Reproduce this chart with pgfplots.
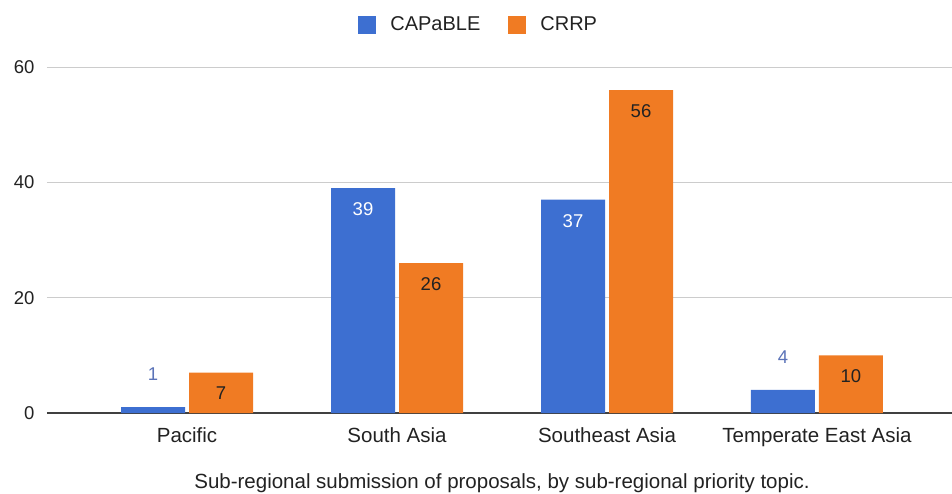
\documentclass[border=0pt]{standalone}
\usepackage{fontspec}
\setmainfont{Liberation Sans}
\usepackage{pgfplots}
\pgfplotsset{compat=1.18}
\definecolor{cblue}{HTML}{3D6FD1}
\definecolor{corange}{HTML}{F07B23}
\definecolor{lblue}{HTML}{5B73B8}
\definecolor{txt}{HTML}{222222}
\begin{document}
\fontsize{19}{23}\selectfont
\begin{tikzpicture}
\useasboundingbox (-47pt,-80pt) rectangle (905pt,413pt);
\begin{axis}[
  at={(0pt,0pt)}, anchor=south west,
  scale only axis, width=905pt, height=346pt,
  xmin=-0.667, xmax=3.643, ymin=0, ymax=60,
  xtick={0,1,2,3},
  xticklabels={Pacific, South Asia, Southeast Asia, Temperate East Asia},
  ytick={0,20,40,60},
  ymajorgrids, grid style={draw=black!20, line width=1pt},
  extra y ticks={0}, extra y tick labels={},
  extra y tick style={grid style={draw=black!75, line width=1.4pt}},
  axis line style={draw=none}, major tick length=0pt,
  tick label style={text=txt},
  yticklabel style={xshift=-6pt, font=\fontsize{18.5}{22}\selectfont},
  xticklabel style={yshift=-8pt, font=\fontsize{20.5}{24}\selectfont},
  /pgf/number format/assume math mode=true,
  legend style={at={(0.477,1.121)}, anchor=center, draw=none, fill=none,
    legend columns=2, font=\fontsize{20}{24}\selectfont, text=txt,
    /tikz/every odd column/.append style={column sep=12pt},
    /tikz/every even column/.append style={column sep=26pt}},
]
\addplot[ybar, bar width=64pt, bar shift=-34pt, fill=cblue, draw=none,
  legend image code/.code={\fill[cblue] (0pt,-9pt) rectangle (18pt,9pt);}]
  coordinates {(0,1) (1,39) (2,37) (3,4)};
\addplot[ybar, bar width=64pt, bar shift=34pt, fill=corange, draw=none,
  legend image code/.code={\fill[corange] (0pt,-9pt) rectangle (18pt,9pt);}]
  coordinates {(0,7) (1,26) (2,56) (3,10)};
\legend{CAPaBLE, CRRP}
% labels inside blue bars
\addplot[ybar, bar width=64pt, bar shift=-34pt, draw=none, fill=none, forget plot,
  nodes near coords,
  nodes near coords style={anchor=north, xshift=-34pt, yshift=-8pt, text=white, font=\fontsize{18.5}{22}\selectfont}]
  coordinates {(1,39) (2,37)};
% labels above small blue bars
\addplot[ybar, bar width=64pt, bar shift=-34pt, draw=none, fill=none, forget plot,
  nodes near coords,
  nodes near coords style={anchor=south, xshift=-34pt, yshift=20pt, text=lblue, font=\fontsize{18.5}{22}\selectfont}]
  coordinates {(0,1) (3,4)};
% labels inside orange bars
\addplot[ybar, bar width=64pt, bar shift=34pt, draw=none, fill=none, forget plot,
  nodes near coords,
  nodes near coords style={anchor=north, xshift=34pt, yshift=-8pt, text=txt, font=\fontsize{18.5}{22}\selectfont}]
  coordinates {(0,7) (1,26) (2,56) (3,10)};
\end{axis}
\node[text=txt, font=\fontsize{20.5}{24}\selectfont] at (455pt,-70pt)
  {Sub-regional submission of proposals, by sub-regional priority topic.};
\end{tikzpicture}
\end{document}
